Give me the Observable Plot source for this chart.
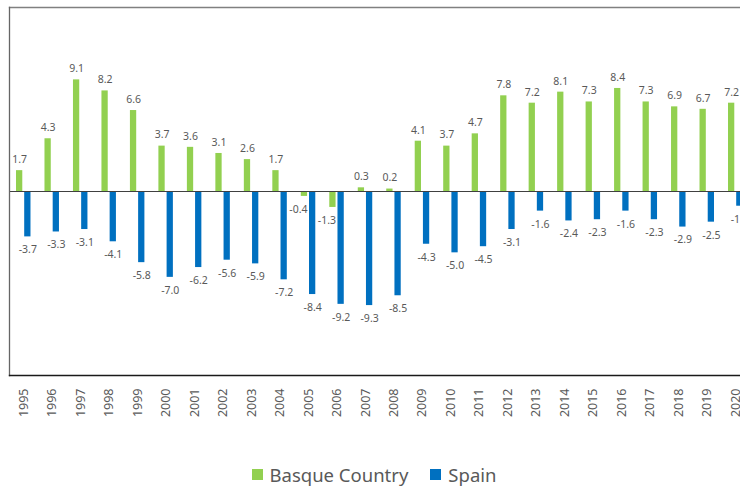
<!DOCTYPE html>
<html>
<head>
<meta charset="utf-8">
<script src="https://cdn.jsdelivr.net/npm/d3@7"></script>
<script src="https://cdn.jsdelivr.net/npm/@observablehq/plot@0.6"></script>
<style>
  html, body { margin: 0; padding: 0; background: #fff; }
  body { width: 740px; height: 487px; overflow: hidden; font-family: "Noto Sans", sans-serif; }
  #legend { height: 25px; display: flex; justify-content: center; align-items: center; color: #595959; font-size: 18.5px; padding-left: 8px; }
  #legend .item { display: flex; align-items: center; }
  #legend .sw { width: 11px; height: 11px; margin-right: 7px; }
  .yrs g[aria-label="x-axis tick label"] text { font-size: 12.5px; }
</style>
</head>
<body>
<div id="chart"></div>
<div id="legend"></div>
<script>
const years = ["1995","1996","1997","1998","1999","2000","2001","2002","2003","2004","2005","2006","2007","2008","2009","2010","2011","2012","2013","2014","2015","2016","2017","2018","2019","2020"];
const basque = [1.7, 4.3, 9.1, 8.2, 6.6, 3.7, 3.6, 3.1, 2.6, 1.7, -0.4, -1.3, 0.3, 0.2, 4.1, 3.7, 4.7, 7.8, 7.2, 8.1, 7.3, 8.4, 7.3, 6.9, 6.7, 7.2];
const spain = [-3.7, -3.3, -3.1, -4.1, -5.8, -7.0, -6.2, -5.6, -5.9, -7.2, -8.4, -9.2, -9.3, -8.5, -4.3, -5.0, -4.5, -3.1, -1.6, -2.4, -2.3, -1.6, -2.3, -2.9, -2.5, -1.2];
const seriesNames = ["Basque Country", "Spain"];
const seriesColors = ["#92D050", "#0070C0"];

const basqueRows = years.map((y, i) => ({year: y, value: basque[i]}));
const spainRows = years.map((y, i) => ({year: y, value: spain[i]}));
const fmt = d => d.value.toFixed(1);
const pos = rows => rows.filter(d => d.value >= 0);
const neg = rows => rows.filter(d => d.value < 0);

const step = 28.48;
const x0 = 9;
const inNear = 7.0, inFar = 15.2;
const off = step / 2 - inNear - (step - inNear - inFar) / 2; // bar centre offset from band centre
const labelStyle = {fill: "#595959", fontSize: 10.5};

const chart = Plot.plot({
  className: "yrs",
  width: 740,
  height: 462,
  marginLeft: 9,
  marginRight: 0,
  marginTop: 7,
  marginBottom: 87,
  style: {fontFamily: "'Noto Sans', sans-serif", color: "#595959", background: "#fff"},
  x: {type: "band", domain: years, range: [x0, x0 + step * years.length], padding: 0, round: false},
  y: {domain: [-15, 15]},
  marks: [
    Plot.barY(basqueRows, {x: "year", y: "value", fill: seriesColors[0], insetLeft: inNear, insetRight: inFar}),
    Plot.barY(spainRows, {x: "year", y: "value", fill: seriesColors[1], insetLeft: inFar, insetRight: inNear}),
    Plot.ruleY([0], {stroke: "#404040", strokeWidth: 1}),
    Plot.text(pos(basqueRows), {x: "year", y: "value", text: fmt, dx: -off, dy: -11, ...labelStyle}),
    Plot.text(neg(basqueRows), {x: "year", y: "value", text: fmt, dx: -off - 6, dy: 13, ...labelStyle}),
    Plot.text(neg(spainRows), {x: "year", y: "value", text: fmt, dx: off, dy: 13, ...labelStyle}),
    Plot.text(pos(spainRows), {x: "year", y: "value", text: fmt, dx: off, dy: -11, ...labelStyle}),
    Plot.axisX({tickRotate: -90, tickSize: 0, tickPadding: 13, fontSize: 12.5, fill: "#595959", label: null}),
    Plot.axisY({ticks: [], label: null, tickSize: 0}),
    Plot.frame({anchor: "top", stroke: "#808080", strokeWidth: 1.3}),
    Plot.frame({anchor: "left", stroke: "#666666", strokeWidth: 1.3}),
    Plot.frame({anchor: "bottom", stroke: "#1a1a1a", strokeWidth: 1.4})
  ]
});
document.getElementById("chart").appendChild(chart);

const legend = document.getElementById("legend");
seriesNames.forEach((name, i) => {
  const item = document.createElement("div");
  item.className = "item";
  if (i > 0) item.style.marginLeft = "22px";
  const sw = document.createElement("div");
  sw.className = "sw";
  sw.style.background = seriesColors[i];
  const t = document.createElement("span");
  t.textContent = name;
  item.appendChild(sw);
  item.appendChild(t);
  legend.appendChild(item);
});
</script>
</body>
</html>
